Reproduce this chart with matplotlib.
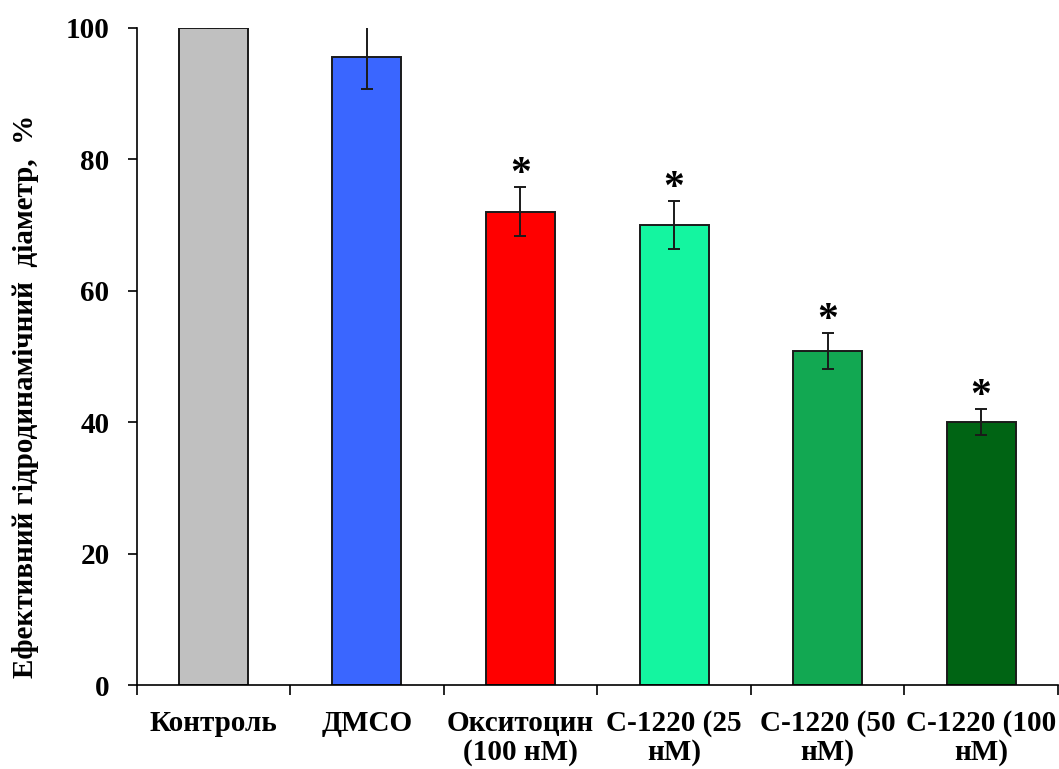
import numpy as np
import matplotlib
matplotlib.use('Agg')
from matplotlib import pyplot as plt

plt.rcParams['font.family'] = ['Liberation Serif', 'DejaVu Serif']
plt.rcParams['font.weight'] = 'bold'

# Дані
groups = ['Контроль', 'ДМСО', 'Окситоцин\n(100 нМ)', 'С-1220 (25\nнМ)',
          'С-1220 (50\nнМ)', 'С-1220 (100\nнМ)']
means = [100.0, 95.5, 72.0, 70.0, 50.8, 40.0]
errors = [0.0, 4.8, 3.7, 3.6, 2.7, 2.0]
significant = [False, False, True, True, True, True]
colors = ['#c0c0c0', '#3a66ff', '#ff0000', '#14f5a0', '#12a852', '#006414']

fig = plt.figure(figsize=(10.59, 7.69), dpi=100)
ax = fig.add_axes([0.129, 0.109, 0.870, 0.855])

x = np.arange(len(groups))
ax.bar(x, means, width=0.45, color=colors, edgecolor='#1a1a1a', linewidth=1.4, zorder=2)
ax.errorbar(x, means, yerr=errors, fmt='none', ecolor='#1a1a1a', elinewidth=1.4,
            capsize=4.5, capthick=1.4, zorder=3)

# зірочки над значущими відмінностями
for xi, m, e, s in zip(x, means, errors, significant):
    if s:
        ax.text(xi, m + e + 0.3, '*', ha='center', va='baseline', fontsize=30,
                fontweight='bold')

ax.set_xlim(-0.5, len(groups) - 0.5)
ax.set_ylim(0, 100)
ax.set_yticks(range(0, 101, 20))
ax.tick_params(axis='y', direction='out', length=6.5, width=1.2, pad=13, labelsize=21)

# підписи по центру стовпчиків, поділки між групами
ax.set_xticks(x)
ax.set_xticklabels(groups, fontsize=21, fontweight='bold', linespacing=1.08)
ax.set_xticks(np.arange(-0.5, len(groups)), minor=True)
ax.tick_params(axis='x', which='major', length=0, pad=18)
ax.tick_params(axis='x', which='minor', direction='out', length=7, width=1.2)

for side in ['top', 'right']:
    ax.spines[side].set_visible(False)
for side in ['left', 'bottom']:
    ax.spines[side].set_linewidth(1.2)

fig.text(26 / 1059, 1 - 396 / 769, 'Ефективний гідродинамічний  діаметр,  %',
         rotation=90, ha='center', va='center', fontsize=21, fontweight='bold')

fig.savefig('out.png', dpi=100)
